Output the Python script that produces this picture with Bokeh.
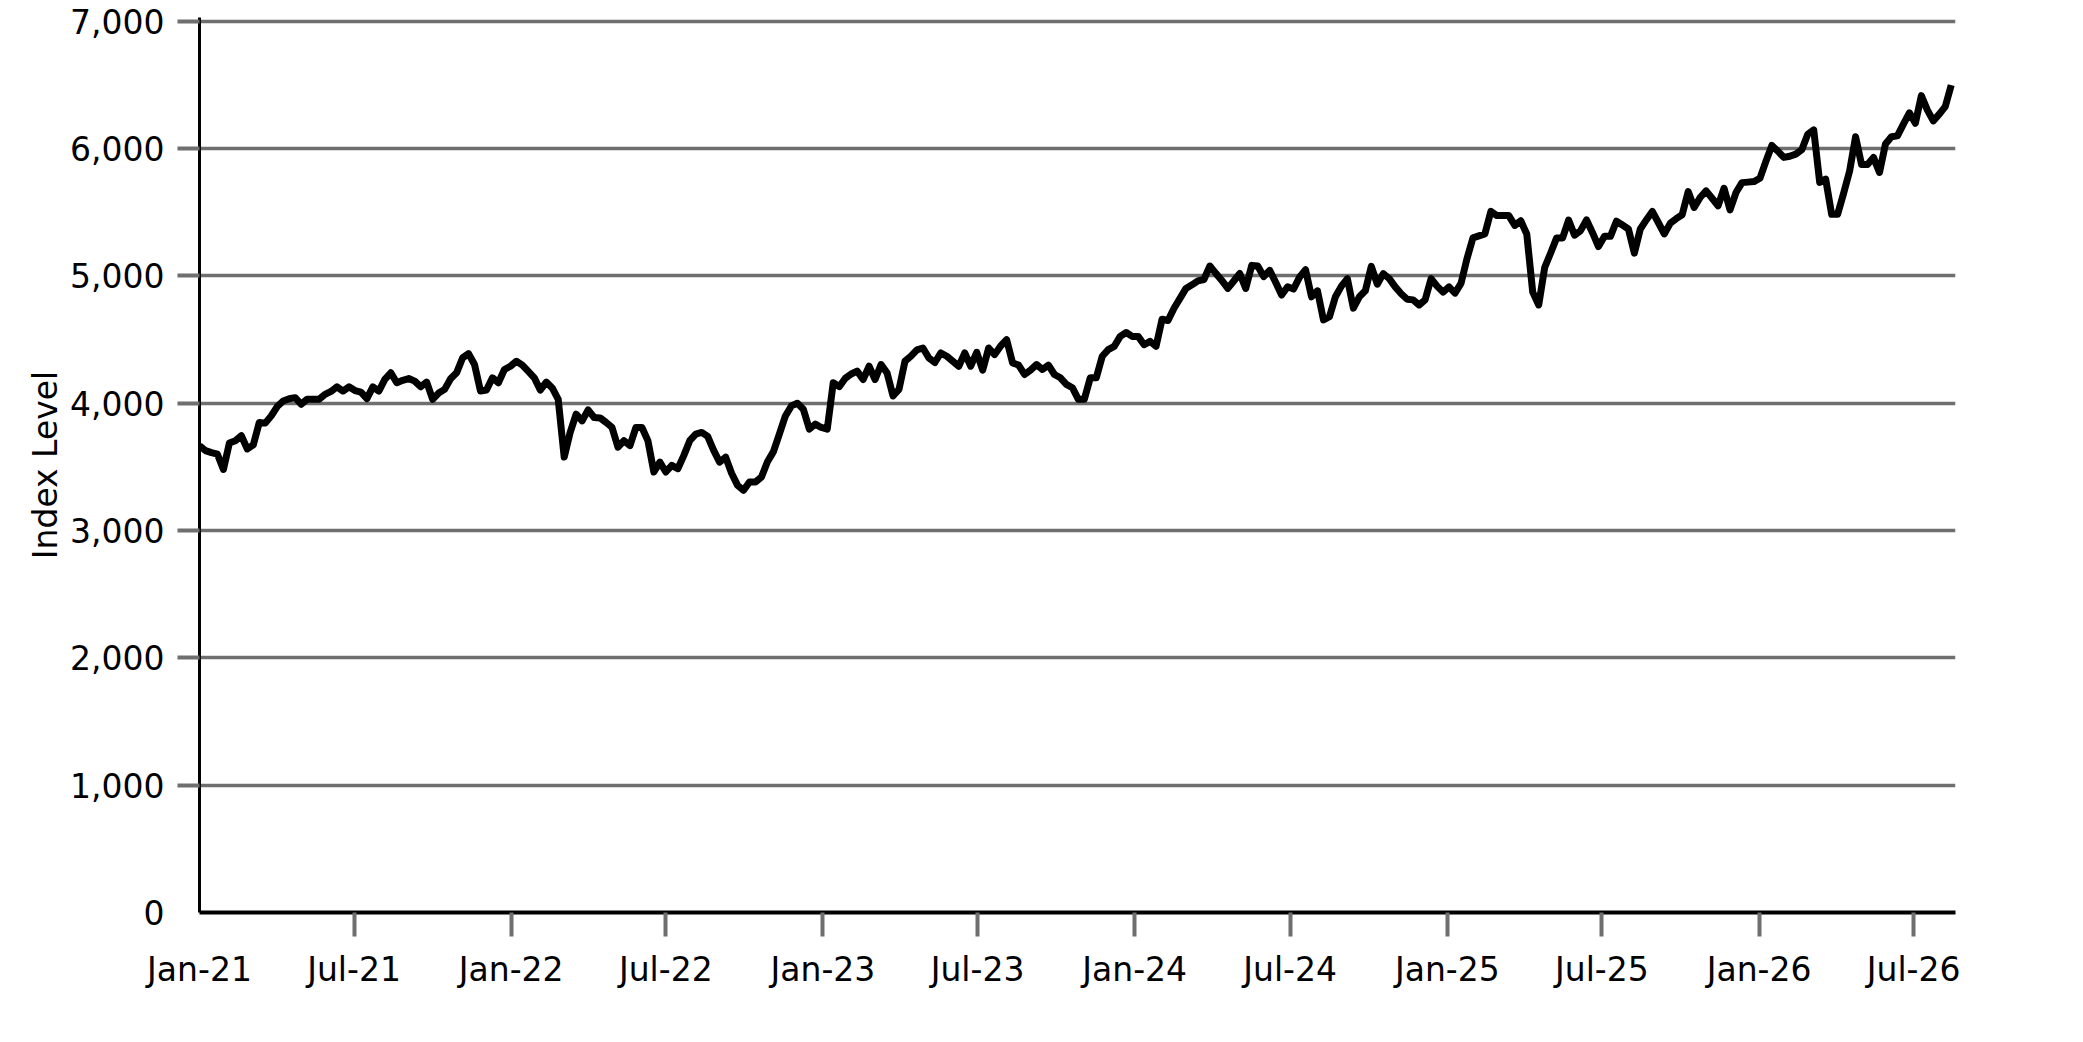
import pandas as pd
from bokeh.plotting import figure
from bokeh.models import Range1d, FixedTicker, DatetimeTickFormatter, NumeralTickFormatter
from bokeh.embed import file_html
from bokeh.resources import INLINE

# ---- data (weekly index level) ----
start_date = "2021-01-01"
index_level = [
    3667, 3628, 3612, 3600, 3480, 3688, 3706, 3745, 3641, 3673,
    3849, 3844, 3901, 3974, 4018, 4035, 4044, 3992, 4031, 4031,
    4031, 4070, 4093, 4129, 4096, 4129, 4100, 4088, 4036, 4129,
    4096, 4187, 4239, 4161, 4180, 4194, 4174, 4129, 4166, 4031,
    4080, 4109, 4192, 4239, 4356, 4390, 4304, 4096, 4104, 4200,
    4161, 4265, 4291, 4330, 4299, 4250, 4200, 4104, 4166, 4120,
    4031, 3577, 3771, 3914, 3862, 3948, 3888, 3885, 3850, 3810,
    3655, 3706, 3667, 3810, 3810, 3706, 3460, 3538, 3460, 3512,
    3486, 3589, 3706, 3758, 3771, 3740, 3630, 3538, 3577, 3450,
    3355, 3316, 3382, 3382, 3420, 3540, 3620, 3760, 3900, 3979,
    4000, 3953, 3797, 3836, 3810, 3797, 4161, 4130, 4195, 4230,
    4252, 4187, 4291, 4187, 4304, 4239, 4057, 4109, 4330, 4370,
    4420, 4434, 4356, 4320, 4395, 4369, 4330, 4291, 4395, 4291,
    4400, 4260, 4434, 4382, 4450, 4499, 4317, 4300, 4226, 4260,
    4304, 4265, 4299, 4226, 4200, 4148, 4122, 4031, 4031, 4200,
    4200, 4369, 4421, 4447, 4525, 4556, 4525, 4525, 4460, 4486,
    4447, 4660, 4650, 4746, 4824, 4902, 4930, 4961, 4972, 5078,
    5020, 4965, 4902, 4960, 5019, 4902, 5083, 5078, 4995, 5044,
    4950, 4850, 4915, 4897, 4991, 5049, 4836, 4883, 4655, 4680,
    4836, 4920, 4979, 4747, 4836, 4883, 5075, 4935, 5018, 4979,
    4914, 4860, 4817, 4812, 4772, 4812, 4979, 4920, 4873, 4914,
    4865, 4941, 5135, 5299, 5315, 5330, 5507, 5474, 5474, 5474,
    5397, 5433, 5330, 4873, 4772, 5066, 5180, 5299, 5299, 5439,
    5320, 5356, 5440, 5340, 5231, 5311, 5311, 5430, 5400, 5369,
    5179, 5369, 5440, 5507, 5420, 5330, 5413, 5450, 5481, 5663,
    5538, 5616, 5668, 5610, 5551, 5689, 5519, 5655, 5733, 5737,
    5741, 5767, 5900, 6025, 5980, 5931, 5940, 5957, 5991, 6113,
    6147, 5735, 5761, 5484, 5484, 5650, 5824, 6093, 5876, 5876,
    5931, 5813, 6036, 6093, 6100, 6193, 6281, 6199, 6416, 6305,
    6218, 6271, 6330, 6499,
]
dates = pd.date_range(start_date, periods=len(index_level), freq="7D")

x_tick_dates = ["2021-01-01", "2021-07-01", "2022-01-01", "2022-07-01",
                "2023-01-01", "2023-07-01", "2024-01-01", "2024-07-01",
                "2025-01-01", "2025-07-01", "2026-01-01", "2026-07-01"]
x_tick_labels = ["Jan-21", "Jul-21", "Jan-22", "Jul-22", "Jan-23", "Jul-23",
                 "Jan-24", "Jul-24", "Jan-25", "Jul-25", "Jan-26", "Jul-26"]
y_ticks = [0, 1000, 2000, 3000, 4000, 5000, 6000, 7000]
x_start, x_end = "2021-01-01", "2026-08-19"
y_start, y_end = 0, 7030

FONT = "DejaVu Sans"
GRID = "#6f6f6f"

p = figure(width=2060, height=1020, output_backend="svg", toolbar_location=None,
           x_axis_type="datetime",
           x_range=Range1d(pd.Timestamp(x_start), pd.Timestamp(x_end)),
           y_range=Range1d(y_start, y_end),
           min_border_left=199, min_border_right=105,
           min_border_top=17, min_border_bottom=108)
p.outline_line_color = None
p.background_fill_color = "white"

p.line(dates, index_level, line_color="black", line_width=7, line_join="round")

# x axis
x_ms = [pd.Timestamp(d).value // 10**6 for d in x_tick_dates]
p.xaxis.ticker = FixedTicker(ticks=x_ms, minor_ticks=x_ms[1:])
p.xaxis.formatter = DatetimeTickFormatter(days="%b-%y", months="%b-%y", years="%b-%y")
p.xaxis.major_label_overrides = {t: lab for t, lab in zip(x_ms, x_tick_labels)}
p.xaxis.axis_line_color = "black"
p.xaxis.axis_line_width = 4
p.xaxis.major_tick_out = 0
p.xaxis.major_tick_in = 0
p.xaxis.minor_tick_out = 24
p.xaxis.minor_tick_in = 0
p.xaxis.minor_tick_line_color = GRID
p.xaxis.minor_tick_line_width = 4
p.xaxis.major_label_standoff = 13
p.xaxis.major_label_text_font = FONT
p.xaxis.major_label_text_font_size = "33px"
p.xaxis.major_label_text_color = "black"
p.xgrid.visible = False

# y axis
p.yaxis.ticker = FixedTicker(ticks=y_ticks, minor_ticks=y_ticks[1:])
p.yaxis.formatter = NumeralTickFormatter(format="0,0")
p.yaxis.axis_line_color = "black"
p.yaxis.axis_line_width = 3
p.yaxis.major_tick_out = 0
p.yaxis.major_tick_in = 0
p.yaxis.minor_tick_out = 22
p.yaxis.minor_tick_in = 0
p.yaxis.minor_tick_line_color = GRID
p.yaxis.minor_tick_line_width = 4
p.yaxis.major_label_standoff = 13
p.yaxis.major_label_text_font = FONT
p.yaxis.major_label_text_font_size = "33px"
p.yaxis.major_label_text_color = "black"
p.yaxis.axis_label = "Index Level"
p.yaxis.axis_label_text_font = FONT
p.yaxis.axis_label_text_font_size = "33px"
p.yaxis.axis_label_text_font_style = "normal"
p.yaxis.axis_label_text_color = "black"
p.yaxis.axis_label_standoff = 2

p.ygrid.ticker = FixedTicker(ticks=y_ticks)
p.ygrid.grid_line_color = GRID
p.ygrid.grid_line_width = 3.5

open("out.html", "w").write(file_html(p, INLINE))
